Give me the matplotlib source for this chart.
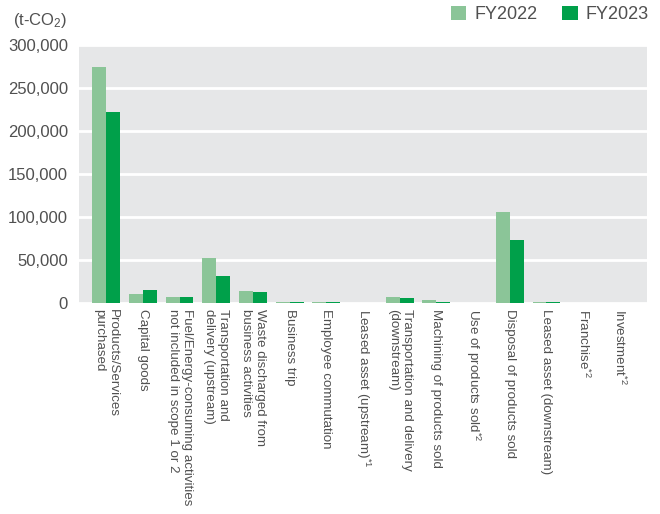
import matplotlib.pyplot as plt
import numpy as np

categories = [
    "Products/Services\npurchased",
    "Capital goods",
    "Fuel/Energy-consuming activities\nnot included in scope 1 or 2",
    "Transportation and\ndelivery (upstream)",
    "Waste discharged from\nbusiness activities",
    "Business trip",
    "Employee commutation",
    "Leased asset (upstream)$^{*1}$",
    "Transportation and delivery\n(downstream)",
    "Machining of products sold",
    "Use of products sold$^{*2}$",
    "Disposal of products sold",
    "Leased asset (downstream)",
    "Franchise$^{*2}$",
    "Investment$^{*2}$",
]
fy2022 = [274000, 10500, 7000, 52000, 14000, 1500, 1500, 0, 7000, 3500, 0, 106000, 1000, 0, 0]
fy2023 = [222000, 15000, 7000, 31000, 13000, 1200, 1200, 0, 5500, 1200, 0, 73000, 1000, 0, 0]
yticks = [0, 50000, 100000, 150000, 200000, 250000, 300000]

light = "#8bc598"
dark = "#00a04a"
txt = "#505050"

plt.rcParams['font.family'] = ['Liberation Sans', 'DejaVu Sans']
plt.rcParams['mathtext.fontset'] = 'custom'
plt.rcParams['mathtext.rm'] = 'Liberation Sans'
plt.rcParams['mathtext.it'] = 'Liberation Sans'

fig = plt.figure(figsize=(6.6, 5.14), dpi=100)
ax = fig.add_axes([0.1197, 0.4105, 0.8606, 0.5020])
ax.set_facecolor("#e6e7e8")

x = np.arange(len(categories))
w = 0.38
ax.bar(x - w / 2, fy2022, w, color=light, label="FY2022", zorder=3)
ax.bar(x + w / 2, fy2023, w, color=dark, label="FY2023", zorder=3)

ax.set_xlim(-0.74, 14.74)
ax.set_ylim(0, 300000)
ax.set_yticks(yticks)
ax.set_yticklabels([f"{v:,}" for v in yticks], fontsize=12, color=txt)
ax.grid(axis='y', color='white', linewidth=2, zorder=1)
ax.set_axisbelow(True)
for s in ax.spines.values():
    s.set_visible(False)
ax.tick_params(axis='y', length=0, pad=8)

ax.set_xticks(x)
ax.set_xticklabels(categories, rotation=-90, ha='center', va='top',
                   multialignment='left', fontsize=9.6, color=txt, linespacing=1.22)
ax.tick_params(axis='x', length=0, pad=4)

fig.text(13 / 660, 1 - 20 / 514, "(t-CO$_2$)", fontsize=12, color=txt, ha='left', va='center')

leg = fig.legend(loc='upper right', bbox_to_anchor=(649 / 660, 1 - 6 / 514), ncol=2, frameon=False,
                 fontsize=13, handlelength=0.85, handleheight=0.85, handletextpad=0.45,
                 columnspacing=1.4, borderaxespad=0, borderpad=0)
for t in leg.get_texts():
    t.set_color(txt)

fig.savefig("out.png", dpi=100)
